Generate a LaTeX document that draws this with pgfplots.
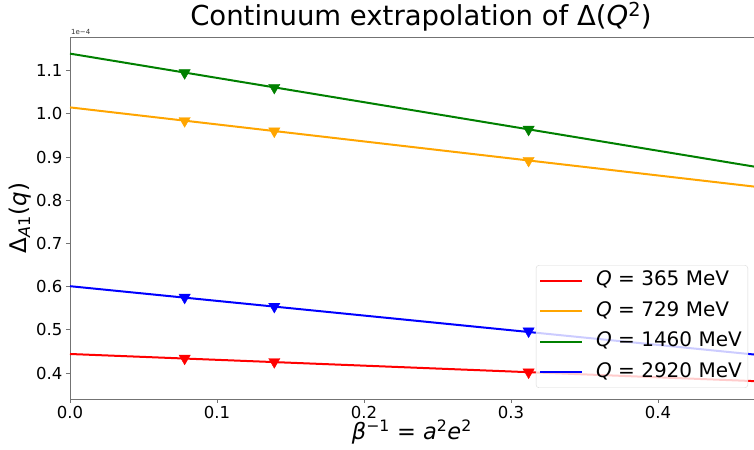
\documentclass[border=0pt]{standalone}
\usepackage{fontspec}
\setmainfont{DejaVu Sans}
\usepackage{pgfplots}
\pgfplotsset{compat=1.18}
\definecolor{mplred}{RGB}{255,0,0}
\definecolor{mplorange}{RGB}{255,165,0}
\definecolor{mplgreen}{RGB}{0,128,0}
\definecolor{mplblue}{RGB}{0,0,255}
\begin{document}
\begin{tikzpicture}
\begin{axis}[
  name=ax,
  scale only axis, width=702pt, height=362pt,
  xmin=0, xmax=0.4776, ymin=0.3398, ymax=1.178,
  xtick={0,0.1,0.2,0.3,0.4},
  ytick={0.4,0.5,0.6,0.7,0.8,0.9,1.0,1.1},
  tick pos=left, tick align=outside,
  major tick length=4pt,
  every tick/.style={black!55, line width=0.8pt},
  axis line style={black!55, line width=0.9pt},
  /pgf/number format/assume math mode=true,
  xticklabel style={/pgf/number format/.cd, fixed, fixed zerofill, precision=1},
  yticklabel style={/pgf/number format/.cd, fixed, fixed zerofill, precision=1},
  ticklabel style={font=\fontsize{16.5}{19}\selectfont},
  title={Continuum extrapolation of Δ(\textit{Q}\textsuperscript{2})},
  title style={at={(0.5,1)}, anchor=base, yshift=5pt, font=\fontsize{27.5}{32}\selectfont},
  xlabel={\textit{β}\textsuperscript{−1} = \textit{a}\textsuperscript{2}\textit{e}\textsuperscript{2}},
  xlabel style={at={(rel axis cs:0.487,0)}, anchor=base, yshift=-40.5pt, font=\fontsize{22.5}{26}\selectfont},
  ylabel={Δ\textsubscript{\textit{A}1}(\textit{q})},
  ylabel style={at={(axis description cs:-0.0712,0.5)}, anchor=center, font=\fontsize{23}{27}\selectfont},
  legend cell align=left,
  legend style={at={(0.9658,0.0304)}, anchor=south east,
    draw=black!15, rounded corners=3pt, fill=white, fill opacity=0.8, text opacity=1, draw opacity=1,
    font=\fontsize{20}{24}\selectfont, inner sep=3pt, row sep=5.5pt,
    nodes={text height=15pt, text depth=5pt, inner ysep=2.5pt, inner xsep=3pt}},
  legend image code/.code={\draw[#1, line width=2pt, draw opacity=1] (0pt,0pt) -- (42pt,0pt);},
  /tikz/every odd column/.append style={column sep=10pt},
]
% fitted lines
\addplot[mplred, line width=2pt] coordinates {(0,0.444) (0.48,0.3792)};
\addlegendentry{\textit{Q} = 365 MeV}
\addplot[mplorange, line width=2pt] coordinates {(0,1.015) (0.48,0.8259)};
\addlegendentry{\textit{Q} = 729 MeV}
\addplot[mplgreen, line width=2pt] coordinates {(0,1.1395) (0.48,0.8697)};
\addlegendentry{\textit{Q} = 1460 MeV}
\addplot[mplblue, line width=2pt] coordinates {(0,0.601) (0.48,0.4378)};
\addlegendentry{\textit{Q} = 2920 MeV}
% data points
\addplot[only marks, mark=triangle*, mark size=6.5pt, mark options={rotate=180, fill=mplred, draw=mplred}, forget plot]
  coordinates {(0.078,0.434) (0.139,0.426) (0.312,0.402)};
\addplot[only marks, mark=triangle*, mark size=6.5pt, mark options={rotate=180, fill=mplorange, draw=mplorange}, forget plot]
  coordinates {(0.078,0.984) (0.139,0.960) (0.312,0.892)};
\addplot[only marks, mark=triangle*, mark size=6.5pt, mark options={rotate=180, fill=mplgreen, draw=mplgreen}, forget plot]
  coordinates {(0.078,1.095) (0.139,1.061) (0.312,0.964)};
\addplot[only marks, mark=triangle*, mark size=6.5pt, mark options={rotate=180, fill=mplblue, draw=mplblue}, forget plot]
  coordinates {(0.078,0.575) (0.139,0.554) (0.312,0.497)};
\end{axis}
\node[anchor=south west, font=\fontsize{7}{8}\selectfont, text=black!80, inner sep=1pt] at ([yshift=1pt]ax.north west) {1e−4};
\pgfresetboundingbox
\path[use as bounding box] ([xshift=-70pt,yshift=-51pt]ax.south west) rectangle ([xshift=-18pt,yshift=37pt]ax.north east);
\end{tikzpicture}
\end{document}
